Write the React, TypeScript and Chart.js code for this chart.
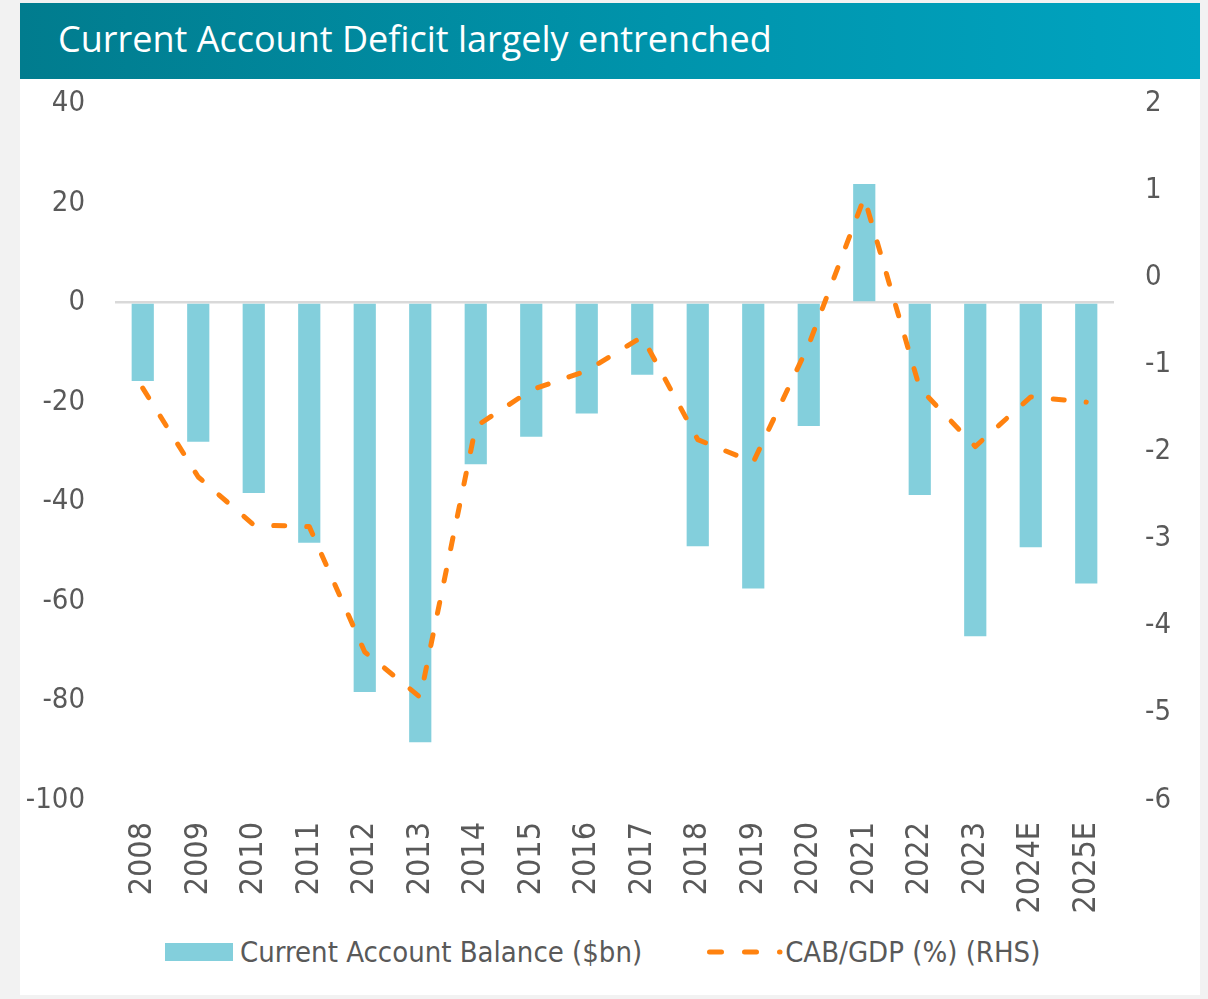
import React, { useEffect, useRef } from 'react';
import { Chart, registerables } from 'chart.js';

Chart.register(...registerables);

const titleText = 'Current Account Deficit largely entrenched';
const categories = ['2008', '2009', '2010', '2011', '2012', '2013', '2014', '2015', '2016', '2017', '2018', '2019', '2020', '2021', '2022', '2023', '2024E', '2025E'];
const balanceValues = [-15.8, -28.0, -38.3, -48.3, -78.3, -88.4, -32.5, -27.0, -22.3, -14.5, -49.0, -57.5, -24.8, 23.8, -38.7, -67.1, -49.2, -56.5];
const cabGdpValues = [-1.27, -2.29, -2.84, -2.86, -4.30, -4.82, -1.71, -1.29, -1.07, -0.68, -1.86, -2.12, -0.77, 0.92, -1.27, -1.94, -1.37, -1.43];
const leftAxisRange = [-100, 40];
const rightAxisRange = [-6, 2];
const legendLabels = ['Current Account Balance ($bn)', 'CAB/GDP (%) (RHS)'];

const BAR_COLOR = '#83cfdc';
const LINE_COLOR = '#ff820f';
const TEXT_COLOR = '#595959';
const FONT = '"Liberation Sans Narrow", "DejaVu Sans Condensed", sans-serif';

export default function App() {
  const canvasRef = useRef<HTMLCanvasElement | null>(null);

  useEffect(() => {
    document.body.style.margin = '0';
    document.body.style.background = '#f2f2f2';
    const canvas = canvasRef.current;
    if (!canvas) return;
    const chart = new Chart(canvas, {
      type: 'bar',
      data: {
        labels: categories,
        datasets: [
          {
            type: 'line',
            label: legendLabels[1],
            data: cabGdpValues,
            yAxisID: 'y1',
            borderColor: LINE_COLOR,
            backgroundColor: 'transparent',
            borderWidth: 5,
            borderDash: [11, 22],
            borderCapStyle: 'round',
            borderJoinStyle: 'round',
            pointRadius: 0,
            tension: 0,
            order: 0,
          } as any,
          {
            type: 'bar',
            label: legendLabels[0],
            data: balanceValues,
            yAxisID: 'y',
            backgroundColor: BAR_COLOR,
            borderWidth: 0,
            barPercentage: 0.4,
            categoryPercentage: 1.0,
            order: 1,
          },
        ],
      },
      options: {
        responsive: false,
        animation: false,
        layout: { padding: { top: 24.5, left: 0, right: 0, bottom: 0 } },
        plugins: { legend: { display: false }, tooltip: { enabled: false }, title: { display: false } },
        scales: {
          x: {
            grid: { display: false, drawTicks: false },
            border: { display: false },
            ticks: {
              color: TEXT_COLOR,
              font: { family: FONT, size: 32 },
              minRotation: 90,
              maxRotation: 90,
              padding: 22,
              autoSkip: false,
            },
            afterFit: (s: any) => { s.height = 115; },
          },
          y: {
            position: 'left',
            min: leftAxisRange[0],
            max: leftAxisRange[1],
            grid: {
              drawTicks: true,
              tickLength: 28,
              tickColor: 'transparent',
              color: (c: any) => (c.tick && c.tick.value === 0 ? '#d9d9d9' : 'transparent'),
              lineWidth: 2.5,
            },
            border: { display: false },
            ticks: {
              stepSize: 20,
              color: TEXT_COLOR,
              font: { family: FONT, size: 29 },
              padding: 2,
            },
            afterFit: (s: any) => { s.width = 95; },
          },
          y1: {
            position: 'right',
            min: rightAxisRange[0],
            max: rightAxisRange[1],
            grid: { display: false, drawTicks: true, tickLength: 29, tickColor: 'transparent' },
            border: { display: false },
            ticks: {
              stepSize: 1,
              color: TEXT_COLOR,
              font: { family: FONT, size: 29 },
              padding: 2,
            },
            afterFit: (s: any) => { s.width = 86; },
          },
        },
      },
    });
    return () => chart.destroy();
  }, []);

  return (
    <div style={{ position: 'relative', width: 1208, height: 999, background: '#f2f2f2', overflow: 'hidden' }}>
      <div style={{ position: 'absolute', left: 20, top: 3, width: 1180, height: 992, background: '#ffffff' }}>
        <div
          style={{
            position: 'absolute',
            left: 0,
            top: 0,
            width: 1180,
            height: 76,
            background: 'linear-gradient(90deg, #017c8e 0%, #0094ac 55%, #00a4c1 100%)',
            color: '#ffffff',
            fontFamily: '"Open Sans", "Noto Sans", sans-serif',
            fontSize: 36,
            lineHeight: '72px',
            paddingLeft: 38,
            boxSizing: 'border-box',
            whiteSpace: 'nowrap',
          }}
        >
          {titleText}
        </div>
        <canvas ref={canvasRef} width={1180} height={836} style={{ position: 'absolute', left: 0, top: 76, width: 1180, height: 836 }} />
        <div
          style={{
            position: 'absolute',
            left: 145,
            top: 927,
            height: 44,
            display: 'flex',
            alignItems: 'center',
            fontFamily: FONT,
            fontSize: 29,
            color: TEXT_COLOR,
            whiteSpace: 'nowrap',
          }}
        >
          <span style={{ display: 'inline-block', width: 68, height: 18, background: BAR_COLOR, marginRight: 7 }} />
          <span>{legendLabels[0]}</span>
          <svg width={76} height={18} style={{ marginLeft: 65, marginRight: 2 }}>
            <line x1={2.5} y1={9} x2={73} y2={9} stroke={LINE_COLOR} strokeWidth={5} strokeDasharray="12 23" strokeLinecap="round" />
          </svg>
          <span>{legendLabels[1]}</span>
        </div>
      </div>
    </div>
  );
}
